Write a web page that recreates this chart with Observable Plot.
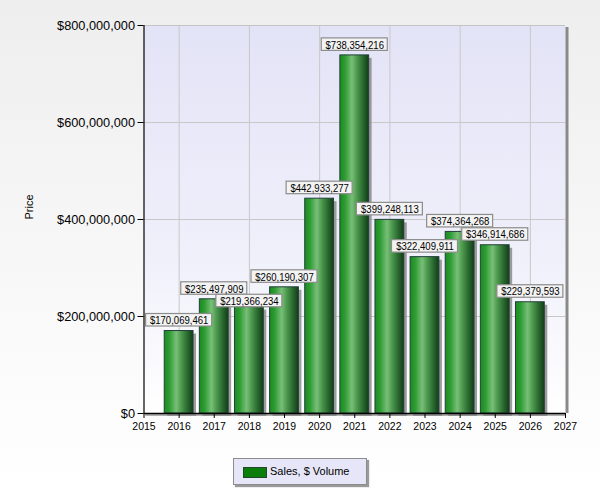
<!DOCTYPE html>
<html>
<head>
<meta charset="utf-8">
<script src="https://cdn.jsdelivr.net/npm/d3@7"></script>
<script src="https://cdn.jsdelivr.net/npm/@observablehq/plot@0.6"></script>
<style>
  html, body { margin: 0; padding: 0; }
  #page { width: 600px; height: 500px; position: relative; overflow: hidden;
          background: linear-gradient(#eeeeee, #fdfdfd 85%, #ffffff);
          font-family: "Liberation Sans", Arial, sans-serif; }
  #legend { position: absolute; left: 233px; top: 458px; width: 132px; height: 25px;
            background: #e6e6f8; border: 1px solid #8c8c8c;
            box-shadow: 2px 2px 1px #9a9a9a; font-size: 11px; color: #000; }
  #legend .sw { position: absolute; left: 9px; top: 8px; width: 22px; height: 9px;
                background: #0a7d0a; border: 1px solid #1e4a2a; }
  #legend .lb { position: absolute; left: 36px; top: 6px; white-space: nowrap; }
  .yticks text { font-size: 13px; }
</style>
</head>
<body>
<div id="page">
  <div id="chart"></div>
  <div id="legend"><div class="sw"></div><div class="lb">Sales, $ Volume</div></div>
</div>
<script>
const years = [2016, 2017, 2018, 2019, 2020, 2021, 2022, 2023, 2024, 2025, 2026];
const sales = [170069461, 235497909, 219366234, 260190307, 442933277, 738354216,
               399248113, 322409911, 374364268, 346914686, 229379593];
const xTicks = [2015, 2016, 2017, 2018, 2019, 2020, 2021, 2022, 2023, 2024, 2025, 2026, 2027];
const yTicks = [0, 200000000, 400000000, 600000000, 800000000];
const gridYears = [2016, 2018, 2020, 2022, 2024, 2026];
const gridValues = [200000000, 400000000, 600000000];
const seriesName = "Sales, $ Volume";
const yLabel = "Price";

const W = 600, H = 440, mL = 143.5, mR = 35, mT = 25, mB = 27;
const xDom = [2015, 2027], yDom = [0, 800000000];
const fmt = v => "$" + d3.format(",")(v);

const data = years.map((year, i) => ({year, value: sales[i], label: fmt(sales[i])}));

// label box layout (pixel logic derived from the scales, converted back to data units)
const ys = d3.scaleLinear(yDom, [H - mB, mT]);
const xs = d3.scaleLinear(xDom, [mL, W - mR]);
const boxW = 66, boxH = 12.5, gap = 4.5;
let prev = null;
const labels = data.map(d => {
  let bottom = ys(d.value) - gap;
  let top = bottom - boxH;
  const cx = xs(d.year);
  if (prev && Math.abs(cx - prev.cx) < boxW && top < prev.bottom && bottom > prev.top) {
    top = prev.bottom; bottom = top + boxH;
  }
  prev = {cx, top, bottom};
  const halfYears = (boxW / 2) / (xs(1) - xs(0));
  return {...d, x1: d.year - halfYears, x2: d.year + halfYears,
          y1: ys.invert(bottom), y2: ys.invert(top), ym: ys.invert((top + bottom) / 2 + 0.3)};
});

const defs = () => {
  const g = d3.create("svg:defs");
  const bg = g.append("linearGradient").attr("id", "plotBg").attr("x1", 0).attr("y1", 0).attr("x2", 0).attr("y2", 1);
  bg.append("stop").attr("offset", "0%").attr("stop-color", "#e3e3f7");
  bg.append("stop").attr("offset", "60%").attr("stop-color", "#f0f0fb");
  bg.append("stop").attr("offset", "100%").attr("stop-color", "#ffffff");
  const bar = g.append("linearGradient").attr("id", "barGrad").attr("x1", 0).attr("y1", 0).attr("x2", 1).attr("y2", 0);
  [["0%", "#1a8c20"], ["18%", "#2e9c33"], ["42%", "#78bf78"], ["58%", "#4f9c50"], ["80%", "#2a6a30"], ["100%", "#113d17"]]
    .forEach(([o, c]) => bar.append("stop").attr("offset", o).attr("stop-color", c));
  return g.node();
};

const chart = Plot.plot({
  width: W, height: H,
  marginLeft: mL, marginRight: mR, marginTop: mT, marginBottom: mB,
  style: {background: "transparent", fontFamily: "Liberation Sans, Arial, sans-serif", color: "#000", overflow: "visible"},
  x: {domain: xDom, axis: null},
  y: {domain: yDom, axis: null},
  marks: [
    defs,
    Plot.frame({fill: "url(#plotBg)", stroke: "none"}),
    Plot.ruleX(gridYears, {stroke: "#c8c8c8", strokeWidth: 1}),
    Plot.ruleY(gridValues, {stroke: "#c8c8c8", strokeWidth: 1}),
    Plot.ruleY([yDom[1]], {stroke: "#c4c4c4", strokeWidth: 1}),
    Plot.ruleX([xDom[1]], {stroke: "#8a8a8a", strokeWidth: 3, dx: 1.5, y1: yDom[1] * 0.995, y2: yDom[0]}),
    Plot.ruleY([0], {stroke: "#b0b0b0", strokeWidth: 2, dy: 1.5, x1: xDom[0] + 0.05, x2: xDom[1]}),
    Plot.rectY(data, {x1: d => d.year - 0.41, x2: d => d.year + 0.41, y: "value",
                      fill: "#8c8c8c", fillOpacity: 0.85, dx: 3, dy: 3}),
    Plot.rectY(data, {x1: d => d.year - 0.41, x2: d => d.year + 0.41, y: "value",
                      fill: "url(#barGrad)", stroke: "#23403a", strokeWidth: 1}),
    Plot.ruleX([xDom[0]], {stroke: "#000", strokeWidth: 1.2}),
    Plot.ruleY([0], {stroke: "#000", strokeWidth: 1.5}),
    Plot.axisY(yTicks, {tickFormat: fmt, tickSize: 6, tickPadding: 3, label: null,
                        fontSize: 13, fill: "#000", stroke: "#000", className: "yticks"}),
    Plot.axisX(xTicks, {tickFormat: d => String(d), tickSize: 5, tickPadding: 4, label: null,
                        fontSize: 11, fill: "#000", stroke: "#000", className: "xticks"}),
    Plot.rect(labels, {x1: "x1", x2: "x2", y1: "y1", y2: "y2", fill: "#f3f3f3", stroke: "#8c8c8c", strokeWidth: 1.2}),
    Plot.text(labels, {x: "year", y: "ym", text: "label", fill: "#000", fontSize: 11.5,
                       fontFamily: "Liberation Sans, Arial, sans-serif", className: "barlabel"}),
    Plot.text([yLabel], {frameAnchor: "left", dx: -115, rotate: -90, fontSize: 11, fill: "#000"})
  ]
});

const svg = d3.select(chart);
document.getElementById("chart").appendChild(chart);

// narrow the text to mimic the condensed system font of the original
const squeeze = (sel, f) => sel.each(function () {
  const len = this.getComputedTextLength();
  if (len > 0) { this.setAttribute("textLength", len * f); this.setAttribute("lengthAdjust", "spacingAndGlyphs"); }
});
squeeze(svg.selectAll('.yticks text'), 0.98);
squeeze(svg.selectAll('.xticks text'), 0.95);
squeeze(svg.selectAll('.barlabel text'), 0.83);
</script>
</body>
</html>
